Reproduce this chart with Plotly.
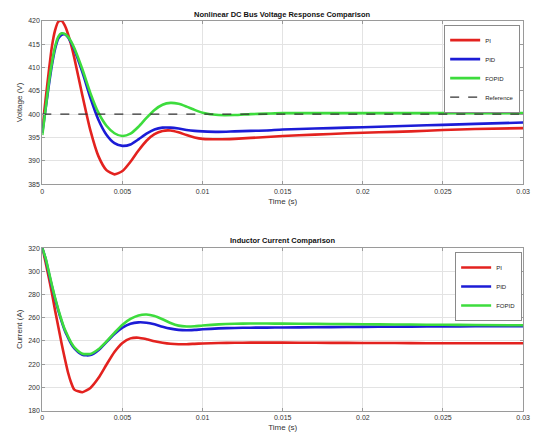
import plotly.graph_objects as go

# ---------------- data ----------------
t = [0, 0.0002, 0.0004, 0.0006, 0.0008, 0.001, 0.0012, 0.0014, 0.0016, 0.0018,
     0.002, 0.0025, 0.003, 0.0035, 0.004, 0.0045, 0.005, 0.0055, 0.006, 0.0065,
     0.007, 0.0075, 0.008, 0.0085, 0.009, 0.0095, 0.010, 0.011, 0.012, 0.013,
     0.014, 0.015, 0.017, 0.019, 0.021, 0.023, 0.025, 0.027, 0.03]

v_pi = [397, 403, 409, 414.5, 418, 419.8, 420, 419, 417.2, 414.8,
        412, 404, 396.5, 391, 388, 387.1, 387.8, 389.8, 392.2, 394.3,
        395.7, 396.4, 396.5, 396.1, 395.5, 395, 394.7, 394.6, 394.7, 394.9,
        395.1, 395.3, 395.6, 395.9, 396.1, 396.3, 396.6, 396.8, 397.0]
v_pid = [396, 401, 406, 410.5, 414, 416.2, 417, 417.1, 416.5, 415.3,
         413.8, 409, 403.5, 398.8, 395.6, 393.8, 393.2, 393.5, 394.6, 395.8,
         396.7, 397.1, 397.1, 396.9, 396.6, 396.4, 396.3, 396.2, 396.3, 396.4,
         396.5, 396.7, 396.9, 397.1, 397.3, 397.5, 397.7, 397.9, 398.2]
v_fopid = [395.5, 401, 406.5, 411, 414.5, 416.6, 417.3, 417.2, 416.6, 415.5,
           414.1, 409.6, 404.5, 400.3, 397.5, 395.9, 395.3, 395.8, 397.3, 399.2,
           400.9, 402, 402.4, 402.2, 401.6, 400.9, 400.3, 399.8, 399.8, 400,
           400.1, 400.2, 400.2, 400.2, 400.2, 400.2, 400.2, 400.2, 400.2]
v_ref = 400

i_pi = [320, 308, 295, 281, 266, 252, 238, 225, 213, 204,
        198, 195.8, 199.5, 208, 219.5, 230.5, 238.3, 242.2, 242.8, 241.5,
        239.8, 238.5, 237.6, 237.2, 237.2, 237.5, 237.8, 238.2, 238.4, 238.5,
        238.5, 238.5, 238.4, 238.3, 238.2, 238.1, 238, 238, 238]
i_pid = [320, 311, 299, 287, 276, 266, 257, 249, 243, 237.5,
         233.5, 228, 227.8, 232, 239, 246, 251.5, 254.8, 256, 255.7,
         254.3, 252.3, 250.6, 249.5, 249.2, 249.5, 250, 250.8, 251.2, 251.4,
         251.5, 251.6, 251.8, 252, 252.2, 252.3, 252.5, 252.6, 252.8]
i_fopid = [320, 311.5, 300, 288, 277, 267, 258, 250, 244, 238.5,
           234.5, 229, 228.8, 232.8, 239.5, 247, 254, 259, 262, 262.8,
           261.5, 258.7, 255.5, 253.2, 252.4, 252.6, 253.3, 254.3, 254.8, 255,
           255, 254.9, 254.7, 254.5, 254.3, 254.1, 253.9, 253.7, 253.5]

x_ticks = [0, 0.005, 0.01, 0.015, 0.02, 0.025, 0.03]
x_labels = ["0", "0.005", "0.01", "0.015", "0.02", "0.025", "0.03"]
v_ticks = [385, 390, 395, 400, 405, 410, 415, 420]
i_ticks = [180, 200, 220, 240, 260, 280, 300, 320]

names = ["PI", "PID", "FOPID"]
colors = ["#e3221f", "#1c1cd6", "#3ddc3d"]

# ---------------- figure ----------------
W, H = 537, 447
fig = go.Figure()

for name, col, ys in zip(names, colors, [v_pi, v_pid, v_fopid]):
    fig.add_trace(go.Scatter(x=t, y=ys, mode="lines", name=name,
                             line=dict(color=col, width=2.6, shape="spline", smoothing=0.6),
                             xaxis="x", yaxis="y", legend="legend"))
fig.add_trace(go.Scatter(x=[t[0], t[-1]], y=[v_ref, v_ref], mode="lines", name="Reference",
                         line=dict(color="#333333", width=1.4, dash="dash"),
                         xaxis="x", yaxis="y", legend="legend"))

for name, col, ys in zip(names, colors, [i_pi, i_pid, i_fopid]):
    fig.add_trace(go.Scatter(x=t, y=ys, mode="lines", name=name,
                             line=dict(color=col, width=2.6, shape="spline", smoothing=0.6),
                             xaxis="x2", yaxis="y2", legend="legend2"))

def py(p):  # pixel from top -> paper y
    return 1 - p / H

xdom = [41 / W, 530 / W]
tick_font = dict(family="Liberation Sans, Arial, sans-serif", size=7, color="#333333")
title_font = dict(family="Liberation Sans, Arial, sans-serif", size=8, color="#333333")

common_x = dict(range=[0, 0.03], tickvals=x_ticks, ticktext=x_labels, showgrid=True,
                gridcolor="#e3e3e3", gridwidth=1, showline=True, mirror="ticks",
                linecolor="#9a9a9a", linewidth=1, ticks="inside", ticklen=3,
                tickcolor="#9a9a9a", tickfont=tick_font, zeroline=False, domain=xdom,
                title=dict(text="Time (s)", font=title_font, standoff=4))
common_y = dict(showgrid=True, gridcolor="#e3e3e3", gridwidth=1, showline=True,
                mirror="ticks", linecolor="#9a9a9a", linewidth=1, ticks="inside",
                ticklen=3, tickcolor="#9a9a9a", tickfont=tick_font, zeroline=False)

legend_common = dict(bgcolor="white", bordercolor="#8a8a8a", borderwidth=1,
                     font=dict(family="Liberation Sans, Arial, sans-serif", size=6, color="#222222"),
                     xanchor="right", yanchor="top", itemwidth=30, tracegroupgap=0)

fig.update_layout(
    width=W, height=H, margin=dict(l=0, r=0, t=0, b=0),
    paper_bgcolor="white", plot_bgcolor="white",
    xaxis=dict(**common_x, anchor="y"),
    yaxis=dict(**common_y, range=[385, 420], tickvals=v_ticks, anchor="x",
               domain=[py(183), py(17)],
               title=dict(text="Voltage (V)", font=title_font, standoff=4)),
    xaxis2=dict(**common_x, anchor="y2"),
    yaxis2=dict(**common_y, range=[180, 320], tickvals=i_ticks, anchor="x2",
                domain=[py(413), py(248)],
                title=dict(text="Current (A)", font=title_font, standoff=4)),
    legend=dict(**legend_common, x=527 / W, y=py(21)),
    legend2=dict(**legend_common, x=529 / W, y=py(252)),
    showlegend=True,
    annotations=[
        dict(text="<b>Nonlinear DC Bus Voltage Response Comparison</b>", x=(41 + 530) / 2 / W,
             y=py(11), xref="paper", yref="paper", showarrow=False, xanchor="center",
             yanchor="middle", font=dict(family="Liberation Sans, Arial, sans-serif", size=7.5, color="#111111")),
        dict(text="<b>Inductor Current Comparison</b>", x=(41 + 530) / 2 / W,
             y=py(240), xref="paper", yref="paper", showarrow=False, xanchor="center",
             yanchor="middle", font=dict(family="Liberation Sans, Arial, sans-serif", size=7.5, color="#111111")),
    ],
)

fig.write_html("out.html")
